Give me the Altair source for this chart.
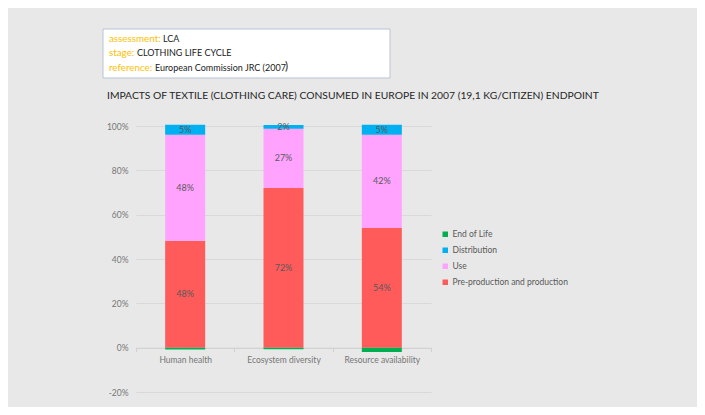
import altair as alt
import pandas as pd

categories = ["Human health", "Ecosystem diversity", "Resource availability"]
series = ["Pre-production and production", "Use", "Distribution", "End of Life"]
pre_production = [0.482, 0.720, 0.540]
use = [0.478, 0.268, 0.420]
distribution = [0.046, 0.017, 0.046]
end_of_life = [-0.008, -0.007, -0.020]

legend_order = ["End of Life", "Distribution", "Use", "Pre-production and production"]
colors = ["#00B050", "#00B0F0", "#FFA3FF", "#FF5B5B"]
y_ticks = [-0.2, 0.0, 0.2, 0.4, 0.6, 0.8, 1.0]

rows = []
for i, c in enumerate(categories):
    for k, (s, vals) in enumerate(zip(series, [pre_production, use, distribution, end_of_life])):
        rows.append({"category": c, "series": s, "value": vals[i], "order": k})
df = pd.DataFrame(rows)

W, H = 295, 266
FONT = "Lato"

base = alt.Chart(df).transform_stack(
    stack="value", groupby=["category"], as_=["y0", "y1"],
    sort=[alt.SortField("order", order="ascending")]
)

x_enc = alt.X(
    "category:N", sort=categories,
    scale=alt.Scale(paddingInner=0, paddingOuter=0),
    axis=alt.Axis(title=None, labelAngle=0, offset=-44.3, tickBand="extent",
                  domainColor="#d0d0d0", tickColor="#d0d0d0", tickSize=4,
                  labelColor="#767676", labelFontSize=8.5, labelPadding=4,
                  labelFont=FONT, grid=False),
)
y_scale = alt.Scale(domain=[-0.2, 1.0], nice=False, zero=False)

bars = base.mark_bar(size=40).encode(
    x=x_enc,
    y=alt.Y("y0:Q", scale=y_scale,
            axis=alt.Axis(title=None, format=".0%", values=y_ticks, domain=False,
                          ticks=False, labelPadding=8, gridColor="#d9d9d9",
                          gridWidth=1, labelColor="#767676", labelFontSize=8.5,
                          labelFont=FONT,
                          labelExpr="replace(datum.label, '\u2212', '-')")),
    y2="y1:Q",
    color=alt.Color("series:N",
                    scale=alt.Scale(domain=legend_order, range=colors),
                    legend=alt.Legend(title=None, orient="none", legendX=305,
                                      legendY=104, symbolType="square",
                                      symbolSize=30, symbolStrokeWidth=0,
                                      labelFontSize=8.5, labelColor="#595959",
                                      labelFont=FONT, rowPadding=7,
                                      labelOffset=3, padding=0)),
)

labels = base.transform_filter("datum.value > 0.01").transform_calculate(
    mid="(datum.y0 + datum.y1) / 2"
).mark_text(fontSize=9, color="#595959", font=FONT).encode(
    x=alt.X("category:N", sort=categories),
    y=alt.Y("mid:Q", scale=y_scale),
    text=alt.Text("value:Q", format=".0%"),
)

one = pd.DataFrame({"a": [0]})
box = alt.Chart(one).mark_rect(fill="white", stroke="#b9c4d3", strokeWidth=1).encode(
    x=alt.value(-33), x2=alt.value(254), y=alt.value(-97), y2=alt.value(-48)
)

def txt(s, x, y, color, size=9):
    return alt.Chart(one).mark_text(text=s, align="left", baseline="middle",
                                    fontSize=size, color=color, font=FONT).encode(
        x=alt.value(x), y=alt.value(y))

orange = "#FFC000"
dark = "#1a1a1a"
annot = [
    txt("assessment:", -27, -87, orange, 9.8), txt("LCA", 27, -87, dark),
    txt("stage:", -27, -73, orange, 9.8), txt("CLOTHING LIFE CYCLE", 1, -73, dark),
    txt("reference:", -27, -58, orange, 9.8), txt("European Commission JRC (2007", 19, -58, dark),
    txt(")", 149, -59, dark, 11.5),
    txt("IMPACTS OF TEXTILE (CLOTHING CARE) CONSUMED IN EUROPE IN 2007 (19,1 KG/CITIZEN) ENDPOINT",
        -29, -30, "#262626", 10.3),
]

chart = alt.layer(box, *annot, bars, labels).properties(
    width=W, height=H,
    autosize=alt.AutoSizeParams(type="none"),
    padding={"left": 128, "top": 118, "right": 266, "bottom": 15},
    background="#e8e8e8",
).configure_view(stroke=None)

chart.save("out.html", embed_options={"renderer": "svg", "actions": False})
